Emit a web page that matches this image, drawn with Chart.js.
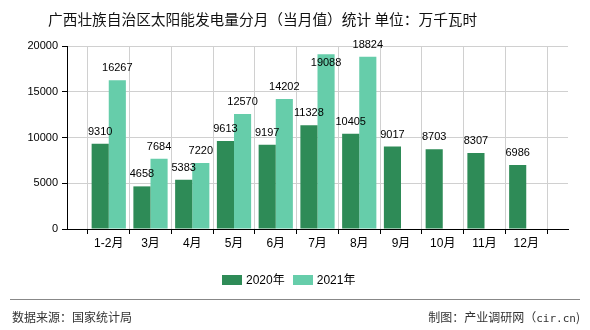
<!DOCTYPE html>
<html>
<head>
<meta charset="utf-8">
<script src="https://cdn.jsdelivr.net/npm/chart.js@4"></script>
<style>
  body { margin: 0; background: #fff; }
  #wrap { position: relative; width: 590px; height: 330px; font-family: "Liberation Sans", "Noto Sans CJK SC", sans-serif; }
  #title { position: absolute; left: 48px; top: 8px; font-size: 14.7px; color: #111; font-family: "Noto Sans CJK SC", sans-serif; white-space: pre; }
  #legend { position: absolute; top: 270px; left: 222px; font-size: 12px; color: #000; white-space: nowrap; }
  #legend span.box { display: inline-block; width: 20px; height: 10px; vertical-align: -1px; margin-right: 4px; }
  #legend span.item { margin-right: 8px; }
  #line { position: absolute; left: 10px; width: 570px; top: 299px; height: 1px; background: #888; }
  .foot { position: absolute; top: 308px; font-size: 12px; color: #333; font-family: "Noto Sans CJK SC", sans-serif; }
  canvas { position: absolute; left: 0; top: 0; }
</style>
</head>
<body>
<div id="wrap">
  <canvas id="chart" width="590" height="330"></canvas>
  <div id="title">广西壮族自治区太阳能发电量分月（当月值）统计 单位：万千瓦时</div>
  <div id="legend"></div>
  <div id="line"></div>
  <div class="foot" style="left:12px">数据来源：国家统计局</div>
  <div class="foot" style="right:10px">制图：产业调研网（<span style="font-family:'DejaVu Sans Mono',monospace;font-size:11px">cir.cn</span>)</div>
</div>
<script>
  var categories = ["1-2月", "3月", "4月", "5月", "6月", "7月", "8月", "9月", "10月", "11月", "12月"];
  var values2020 = [9310, 4658, 5383, 9613, 9197, 11328, 10405, 9017, 8703, 8307, 6986];
  var values2021 = [16267, 7684, 7220, 12570, 14202, 19088, 18824, null, null, null, null];
  var yTicks = [0, 5000, 10000, 15000, 20000];

  var seriesNames = ["2020年", "2021年"];
  var seriesColors = ["#2e8b57", "#66cdaa"];

  // empty slot on both ends so the categories sit on the grid lines
  var labels = [""].concat(categories, [""]);
  var pad = function(arr) { return [null].concat(arr, [null]); };

  var valueLabels = {
    id: "valueLabels",
    afterDatasetsDraw: function(chart) {
      var ctx = chart.ctx;
      var top = chart.chartArea.top;
      ctx.save();
      ctx.font = "11px 'Liberation Sans', sans-serif";
      ctx.fillStyle = "#000";
      ctx.textAlign = "center";
      ctx.textBaseline = "middle";
      chart.data.datasets.forEach(function(ds, i) {
        chart.getDatasetMeta(i).data.forEach(function(bar, j) {
          var v = ds.data[j];
          if (v === null) return;
          var y = bar.y < top + 9.5 ? bar.y + 9 : bar.y - 12;
          ctx.fillText(String(v), bar.x, y);
        });
      });
      ctx.restore();
    }
  };

  new Chart(document.getElementById("chart"), {
    type: "bar",
    data: {
      labels: labels,
      datasets: [
        { label: seriesNames[0], data: pad(values2020), backgroundColor: seriesColors[0] },
        { label: seriesNames[1], data: pad(values2021), backgroundColor: seriesColors[1] }
      ]
    },
    options: {
      responsive: false,
      animation: false,
      layout: { padding: { left: 0, right: 22, top: 46, bottom: 70 } },
      categoryPercentage: 0.82,
      barPercentage: 1,
      plugins: { legend: { display: false }, title: { display: false }, tooltip: { enabled: false } },
      scales: {
        x: {
          offset: false,
          grid: { color: "#d0d0d0", tickColor: "#000", tickLength: 5, drawTicks: true },
          border: { color: "#000" },
          ticks: { color: "#000", font: { size: 12, family: "'Liberation Sans', 'Noto Sans CJK SC'" }, padding: 2, maxRotation: 0, autoSkip: false },
          afterFit: function(s) { s.height = 31; }
        },
        y: {
          min: 0, max: 20000,
          afterBuildTicks: function(s) { s.ticks = yTicks.map(function(v) { return { value: v }; }); },
          grid: { color: "#d0d0d0", tickColor: "#000", tickLength: 5 },
          border: { color: "#000" },
          ticks: { color: "#000", font: { size: 11, family: "'Liberation Sans'" }, padding: 4,
            callback: function(v) { return String(v); } },
          afterFit: function(s) { s.width = 67; }
        }
      }
    },
    plugins: [valueLabels]
  });

  var legend = document.getElementById("legend");
  seriesNames.forEach(function(n, i) {
    legend.innerHTML += '<span class="item"><span class="box" style="background:' + seriesColors[i] + '"></span>' + n + '</span>';
  });
</script>
</body>
</html>
